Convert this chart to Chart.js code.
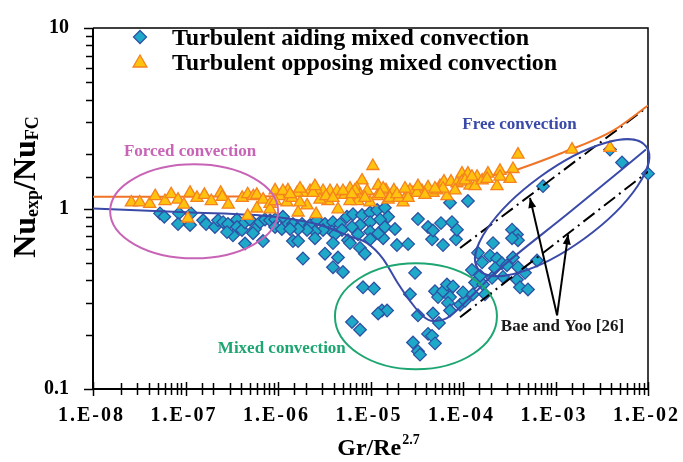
<!DOCTYPE html>
<html>
<head>
<meta charset="utf-8">
<script src="https://cdn.jsdelivr.net/npm/chart.js@4.4.1/dist/chart.umd.min.js"></script>
<style>
  html, body { margin: 0; padding: 0; background: #fff; }
  #wrap { width: 683px; height: 462px; position: relative; }
</style>
</head>
<body>
<div id="wrap"><canvas id="c"></canvas></div>
<script>
// Nu_exp/Nu_FC against Gr/Re^2.7 for turbulent mixed convection

// Turbulent aiding mixed convection (diamonds)
const aidingX = [
  5.3e-8, 5.9e-8, 8.5e-8, 1.15e-7, 8.3e-8, 1.55e-7, 1.67e-7, 2.08e-7, 2.25e-7, 2.55e-7,
  2.88e-7, 3.6e-7, 3.6e-7, 3.26e-7, 4.08e-7, 4.4e-7, 4.98e-7, 5.64e-7, 6.4e-7, 7.24e-7,
  8.2e-7, 9.3e-7, 4.4e-7, 6.88e-7, 5.37e-7, 9.3e-7, 1.10e-6, 1.25e-6, 1.13e-6, 2.81e-7,
  1.12e-7, 1.45e-6,
  1.45e-6, 1.82e-6, 2.22e-6, 2.64e-6, 3.22e-6, 3.93e-6, 4.68e-6, 5.57e-6, 6.47e-6, 8.1e-6,
  9.9e-6, 1.18e-5, 1.43e-5, 1.55e-5, 1.27e-5, 9.9e-6, 7.7e-6, 6.31e-6, 4.92e-6, 3.83e-6,
  3.07e-6, 2.51e-6, 2.06e-6, 1.65e-6, 1.35e-6, 1.65e-6, 2.51e-6, 4.13e-6, 5.71e-6, 7.33e-6,
  9.9e-6, 1.43e-5, 1.84e-5, 1.37e-5, 9.9e-6, 1.21e-5, 3.93e-6, 6.0e-6, 7.7e-6, 8.7e-6,
  3.22e-6, 4.45e-6, 3.93e-6, 5.04e-6, 1.86e-6, 1.93e-5, 2.55e-5, 6.08e-5, 4.63e-5, 8.4e-5,
  3.03e-5,
  3.26e-5, 4.19e-5, 4.74e-5, 5.78e-5, 7.6e-5, 8.6e-5, 7.24e-5, 1.13e-4,
  8.3e-6, 1.09e-5, 1.33e-5, 1.51e-5, 1.21e-5, 6.31e-6, 7.7e-6, 2.67e-5, 3.26e-5, 4.74e-5,
  5.5e-5, 4.19e-5, 4.63e-5, 4.98e-5, 2.88e-5, 3.26e-5, 3.43e-5, 4.98e-5, 5.37e-5, 6.08e-5,
  6.71e-5, 7.8e-5, 7.24e-5, 6.88e-5, 7.24e-5, 9.3e-5, 1.05e-4, 1.0e-4, 1.28e-4, 1.35e-4,
  1.65e-4, 1.53e-4, 1.25e-4, 1.73e-4, 1.96e-4, 2.33e-4,
  1.45e-4, 1.61e-4, 2.64e-4, 2.99e-4, 2.22e-4, 2.71e-4, 2.06e-4, 3.47e-4, 3.93e-4, 3.39e-4,
  3.83e-4, 3.93e-4, 3.39e-4, 4.68e-4, 3.83e-4, 4.13e-4, 5.04e-4, 6.31e-4, 2.11e-4,
  7.33e-4, 5.24e-3, 1.0e-2, 3.88e-3
];
const aidingY = [
  0.94, 0.90, 0.94, 0.94, 0.82, 0.86, 0.82, 0.79, 0.86, 0.84,
  0.82, 0.87, 0.79, 0.71, 0.76, 0.84, 0.87, 0.77, 0.84, 0.87,
  0.86, 0.87, 0.64, 0.66, 0.73, 0.79, 0.77, 0.84, 0.90, 0.74,
  0.81, 0.66,
  0.82, 0.82, 0.81, 0.86, 0.82, 0.84, 0.82, 0.90, 0.93, 0.92,
  0.95, 0.98, 1.01, 0.90, 0.87, 0.84, 0.81, 0.79, 0.76, 0.745,
  0.76, 0.745, 0.76, 0.77, 0.77, 0.66, 0.684, 0.72, 0.667, 0.72,
  0.745, 0.79, 0.77, 0.684, 0.675, 0.727, 0.643, 0.643, 0.605, 0.562,
  0.562, 0.535, 0.473, 0.445, 0.528, 0.627, 0.635, 0.627, 0.675, 0.675,
  0.44,
  0.874, 0.79, 0.755, 0.83, 0.84, 0.763, 1.076, 1.10,
  0.366, 0.36, 0.272, 0.272, 0.262, 0.235, 0.213, 0.335, 0.256, 0.262,
  0.232, 0.202, 0.197, 0.179, 0.181, 0.162, 0.155, 0.348, 0.323, 0.348,
  0.379, 0.37, 0.323, 0.30, 0.272, 0.293, 0.308, 0.343, 0.335, 0.389,
  0.379, 0.424, 0.456, 0.335, 0.548, 0.528,
  0.568, 0.503, 0.497, 0.485, 0.467, 0.418, 0.413, 0.535, 0.473, 0.763,
  0.718, 0.667, 0.684, 0.44, 0.403, 0.366, 0.356, 0.515, 0.643,
  1.33, 1.80, 1.56, 2.12
];

// Turbulent opposing mixed convection (triangles)
const opposingX = [
  2.6e-8, 3.2e-8, 4.1e-8, 4.7e-8, 6.0e-8, 7.0e-8, 8.3e-8, 9.6e-8, 1.12e-7, 1.33e-7,
  1.6e-7, 1.9e-7, 2.4e-7, 2.5e-7, 2.9e-7, 4.1e-7, 4.7e-7, 5.4e-7, 5.9e-7, 6.9e-7,
  8.2e-7, 9.3e-7, 1.1e-6, 5.9e-7, 8.2e-7, 4.7e-7, 1.06e-7,
  1.06e-5, 8.1e-6, 1.21e-5, 1.47e-5, 1.79e-5, 7.1e-6, 6.0e-6, 4.45e-6, 3.65e-6, 3.07e-6,
  2.64e-6, 2.22e-6, 1.86e-6, 1.61e-6, 1.28e-6, 1.05e-6, 9.3e-7, 1.25e-6, 1.65e-6, 2.58e-6,
  2.06e-6, 4.45e-6, 5.3e-6, 7.7e-6, 9.2e-6, 1.18e-5, 1.55e-5, 7.3e-6, 6.0e-6, 3.47e-6,
  2.84e-6, 1.42e-6, 1.13e-6, 9.9e-6, 1.73e-6, 4.35e-6, 6.8e-6,
  1.73e-6, 2.39e-6, 3.30e-6, 3.93e-6, 5.04e-6, 6.31e-6, 8.7e-6, 2.51e-6, 1.35e-6,
  1.37e-5, 2.25e-5, 2.48e-5, 2.88e-5, 3.6e-5, 4.74e-5, 5.64e-5, 6.23e-5, 7.42e-5, 6.71e-5,
  8.6e-5, 9.75e-5, 1.13e-4, 9.75e-5, 1.19e-4, 1.35e-4, 1.42e-4, 1.62e-5, 2.03e-5, 2.67e-5,
  3.18e-5, 3.26e-5, 4.19e-5, 5.24e-5, 2.55e-5, 6.08e-5,
  1.27e-5, 1.93e-5, 2.36e-5, 3.88e-5, 4.98e-5, 8.2e-5, 1.05e-4, 1.61e-4,
  3.93e-4, 3.47e-4, 3.22e-4, 2.51e-4, 2.33e-4, 1.86e-4, 1.82e-4, 1.25e-4, 2.51e-4, 1.51e-3,
  3.88e-3
];
const opposingY = [
  1.08, 1.08, 1.06, 1.17, 1.10, 1.20, 1.12, 1.05, 1.22, 1.145,
  1.19, 1.10, 1.22, 1.16, 1.05, 1.145, 1.20, 1.17, 1.19, 1.12,
  1.06, 1.26, 1.19, 1.00, 0.99, 0.91, 0.88,
  1.72, 1.43, 1.34, 1.26, 1.26, 1.29, 1.29, 1.19, 1.25, 1.25,
  1.25, 1.25, 1.22, 1.22, 1.26, 1.17, 1.10, 1.08, 0.95, 0.93,
  1.04, 0.99, 1.19, 1.19, 1.25, 1.17, 1.12, 1.10, 1.10, 1.10,
  1.12, 1.145, 1.25, 1.08, 1.08, 1.25, 1.26,
  1.29, 1.22, 1.17, 1.145, 1.25, 1.20, 1.145, 1.33, 1.20,
  1.29, 1.08, 1.19, 1.22, 1.25, 1.22, 1.33, 1.41, 1.41, 1.17,
  1.38, 1.56, 1.56, 1.41, 1.34, 1.33, 1.50, 1.145, 1.145, 1.26,
  1.22, 1.33, 1.31, 1.26, 1.145, 1.29,
  1.20, 1.20, 1.29, 1.19, 1.29, 1.26, 1.43, 1.43,
  1.99, 1.655, 1.46, 1.615, 1.33, 1.56, 1.46, 1.50, 1.50, 2.12,
  2.17
];

// Correlation curves
const aidingFitX = [1e-8, 1e-7, 1e-6, 2.85e-6, 6.0e-6, 9.2e-6, 1.36e-5, 1.93e-5, 2.67e-5, 3.7e-5, 4.74e-5, 6.7e-5, 1.1e-4, 1.53e-4, 2.1e-4, 1.43e-3, 9.5e-3];
const aidingFitY = [1.0, 0.952, 0.895, 0.81, 0.70, 0.643, 0.528, 0.393, 0.308, 0.253, 0.238, 0.247, 0.308, 0.365, 0.429, 0.956, 2.12];
const opposingFitX = [1e-8, 1e-7, 1e-6, 1e-5, 5.6e-5, 1.96e-4, 3.22e-4, 1.2e-3, 4.19e-3, 1e-2];
const opposingFitY = [1.16, 1.16, 1.17, 1.2, 1.33, 1.52, 1.6, 2.04, 2.7, 3.72];

// Bae and Yoo [26] bounds
const baeUpperX = [9.3e-5, 1e-2];
const baeUpperY = [0.604, 3.67];
const baeLowerX = [9.3e-5, 1e-2];
const baeLowerY = [0.25, 1.6];

// Tick labels, one per decade
const xTickLabels = ['1.E-08', '1.E-07', '1.E-06', '1.E-05', '1.E-04', '1.E-03', '1.E-02'];
const yTickLabels = ['0.1', '1', '10'];

const SERIF = '"Liberation Serif", "Times New Roman", serif';
const DIAMOND_FILL = '#1fa9c9';
const DIAMOND_EDGE = '#2d52a4';
const TRI_FILL = '#ffc20e';
const TRI_EDGE = '#f5811f';
const BLUE = '#3a4aa8';
const ORANGE = '#f07428';

const pts = (xs, ys) => xs.map((x, i) => ({ x: x, y: ys[i] }));
const isDecade = v => Math.abs(Math.log10(v) - Math.round(Math.log10(v))) < 1e-6;

function drawDiamond(ctx, x, y, r) {
  ctx.beginPath();
  ctx.moveTo(x, y - r); ctx.lineTo(x + r, y); ctx.lineTo(x, y + r); ctx.lineTo(x - r, y);
  ctx.closePath();
  ctx.fillStyle = DIAMOND_FILL; ctx.fill();
  ctx.strokeStyle = DIAMOND_EDGE; ctx.lineWidth = 1.3; ctx.stroke();
}
function drawTriangle(ctx, x, y, r) {
  ctx.beginPath();
  for (let k = 0; k < 3; k++) {
    const a = k * 2 * Math.PI / 3;
    const px = x + Math.sin(a) * r, py = y - Math.cos(a) * r;
    if (k === 0) ctx.moveTo(px, py); else ctx.lineTo(px, py);
  }
  ctx.closePath();
  ctx.fillStyle = TRI_FILL; ctx.fill();
  ctx.strokeStyle = TRI_EDGE; ctx.lineWidth = 1.3; ctx.stroke();
}
function arrow(ctx, x0, y0, x1, y1) {
  ctx.beginPath(); ctx.moveTo(x0, y0); ctx.lineTo(x1, y1);
  ctx.strokeStyle = '#000'; ctx.lineWidth = 2; ctx.stroke();
  const a = Math.atan2(y1 - y0, x1 - x0), L = 10, W = 4;
  ctx.beginPath();
  ctx.moveTo(x1, y1);
  ctx.lineTo(x1 - L * Math.cos(a) + W * Math.sin(a), y1 - L * Math.sin(a) - W * Math.cos(a));
  ctx.lineTo(x1 - L * Math.cos(a) - W * Math.sin(a), y1 - L * Math.sin(a) + W * Math.cos(a));
  ctx.closePath(); ctx.fillStyle = '#000'; ctx.fill();
}

const decor = {
  id: 'decor',
  beforeDatasetsDraw(chart) {
    const { ctx, chartArea: a, scales: { x, y } } = chart;
    ctx.save();
    // frame
    ctx.strokeStyle = '#000';
    ctx.lineWidth = 1.5;
    ctx.beginPath(); ctx.moveTo(a.left, a.top); ctx.lineTo(a.right, a.top); ctx.lineTo(a.right, a.bottom); ctx.stroke();
    ctx.lineWidth = 2;
    ctx.beginPath(); ctx.moveTo(a.left, a.top); ctx.lineTo(a.left, a.bottom); ctx.lineTo(a.right, a.bottom); ctx.stroke();
    // tick marks
    ctx.lineWidth = 1.5;
    x.ticks.forEach(t => {
      const px = Math.round(x.getPixelForValue(t.value)) + 0.5;
      const len = isDecade(t.value) ? 7 : 6;
      ctx.beginPath(); ctx.moveTo(px, a.bottom - len); ctx.lineTo(px, a.bottom + len); ctx.stroke();
    });
    y.ticks.forEach(t => {
      const py = Math.round(y.getPixelForValue(t.value)) + 0.5;
      const len = isDecade(t.value) ? 9 : 7;
      ctx.beginPath(); ctx.moveTo(a.left - len, py); ctx.lineTo(a.left, py); ctx.stroke();
    });
    ctx.restore();
  },
  afterDatasetsDraw(chart) {
    const { ctx, scales: { x, y } } = chart;
    const X = v => x.getPixelForValue(v), Y = v => y.getPixelForValue(v);
    ctx.save();
    ctx.lineWidth = 2;
    // regime ellipses
    ctx.strokeStyle = '#c864b6';
    ctx.beginPath(); ctx.ellipse(X(1.24e-7), Y(0.964), 84, 47, 0, 0, 2 * Math.PI); ctx.stroke();
    ctx.strokeStyle = '#1ea672';
    ctx.beginPath(); ctx.ellipse(X(3.1e-5), Y(0.253), 81, 53, 0, 0, 2 * Math.PI); ctx.stroke();
    ctx.strokeStyle = BLUE;
    ctx.beginPath(); ctx.ellipse(X(1.18e-3), Y(1.01), 104, 38, -36 * Math.PI / 180, 0, 2 * Math.PI); ctx.stroke();
    // arrows to the Bae and Yoo bounds
    arrow(ctx, X(1.04e-3), Y(0.256), X(5.3e-4), Y(1.145));
    arrow(ctx, X(1.04e-3), Y(0.256), X(1.37e-3), Y(0.718));
    // regime labels
    ctx.font = 'bold 17px ' + SERIF;
    ctx.textAlign = 'center';
    ctx.textBaseline = 'alphabetic';
    ctx.fillStyle = '#c864b6'; ctx.fillText('Forced convection', X(1.12e-7), Y(1.965));
    ctx.fillStyle = BLUE; ctx.fillText('Free convection', X(4.08e-4), Y(2.77));
    ctx.fillStyle = '#1ea672'; ctx.fillText('Mixed convection', X(1.1e-6), Y(0.158));
    ctx.fillStyle = '#1a1a1a'; ctx.fillText('Bae and Yoo [26]', X(1.19e-3), Y(0.21));
    ctx.restore();
  },
  afterDraw(chart) {
    const { ctx, chartArea: a, scales: { x } } = chart;
    ctx.save();
    ctx.fillStyle = '#000';
    // x tick labels
    ctx.font = 'bold 20px ' + SERIF;
    ctx.letterSpacing = '2px';
    ctx.textAlign = 'center';
    ctx.textBaseline = 'alphabetic';
    const e0 = Math.round(Math.log10(x.min));
    x.ticks.forEach(t => {
      if (!isDecade(t.value)) return;
      const lbl = xTickLabels[Math.round(Math.log10(t.value)) - e0];
      if (lbl) ctx.fillText(lbl, x.getPixelForValue(t.value) - 1.5, a.bottom + 31.5);
    });
    ctx.letterSpacing = '0px';
    // x title: Gr/Re^2.7
    ctx.textAlign = 'left';
    ctx.font = 'bold 24px ' + SERIF;
    const main = 'Gr/Re';
    const mw = ctx.measureText(main).width;
    ctx.font = 'bold 14px ' + SERIF;
    const sw = ctx.measureText('2.7').width;
    const x0 = 378 - (mw + sw) / 2;
    ctx.font = 'bold 24px ' + SERIF;
    ctx.fillText(main, x0, 455);
    ctx.font = 'bold 14px ' + SERIF;
    ctx.fillText('2.7', x0 + mw + 1, 444);
    // y title: Nu_exp/Nu_FC
    const parts = [['Nu', 32, 0], ['exp', 18, 3], ['/', 32, 0], ['Nu', 32, 0], ['FC', 18, 3]];
    let total = 0;
    parts.forEach(p => { ctx.font = 'bold ' + p[1] + 'px ' + SERIF; p.push(ctx.measureText(p[0]).width); total += p[3]; });
    ctx.translate(35, 187);
    ctx.rotate(-Math.PI / 2);
    let cx = -total / 2;
    parts.forEach(p => { ctx.font = 'bold ' + p[1] + 'px ' + SERIF; ctx.fillText(p[0], cx, p[2]); cx += p[3]; });
    ctx.setTransform(1, 0, 0, 1, 0, 0);
    // legend
    drawDiamond(ctx, 140, 37, 6.5);
    drawTriangle(ctx, 140, 63, 8);
    ctx.fillStyle = '#000';
    ctx.font = 'bold 24px ' + SERIF;
    ctx.textAlign = 'left';
    ctx.fillText('Turbulent aiding mixed convection', 172, 44.5);
    ctx.fillText('Turbulent opposing mixed convection', 172, 69.5);
    ctx.restore();
  }
};

new Chart(document.getElementById('c'), {
  type: 'scatter',
  data: {
    datasets: [
      {
        label: 'Turbulent aiding mixed convection',
        data: pts(aidingX, aidingY),
        pointStyle: 'rectRot', pointRadius: 6.3, pointHoverRadius: 6.3,
        backgroundColor: DIAMOND_FILL, borderColor: DIAMOND_EDGE, borderWidth: 1.3,
        clip: false, order: 6
      },
      {
        label: 'Turbulent opposing mixed convection',
        data: pts(opposingX, opposingY),
        pointStyle: 'triangle', pointRadius: 7, pointHoverRadius: 7,
        backgroundColor: TRI_FILL, borderColor: TRI_EDGE, borderWidth: 1.3,
        clip: false, order: 0
      },
      {
        label: 'Aiding correlation',
        data: pts(aidingFitX, aidingFitY),
        showLine: true, pointRadius: 0, borderColor: BLUE, borderWidth: 2,
        cubicInterpolationMode: 'monotone', fill: false, order: 3
      },
      {
        label: 'Opposing correlation',
        data: pts(opposingFitX, opposingFitY),
        showLine: true, pointRadius: 0, borderColor: ORANGE, borderWidth: 2,
        cubicInterpolationMode: 'monotone', fill: false, order: 2
      },
      {
        label: 'Bae and Yoo [26] upper',
        data: pts(baeUpperX, baeUpperY),
        showLine: true, pointRadius: 0, borderColor: '#000', borderWidth: 2,
        borderDash: [14, 5, 2, 5], fill: false, order: 4
      },
      {
        label: 'Bae and Yoo [26] lower',
        data: pts(baeLowerX, baeLowerY),
        showLine: true, pointRadius: 0, borderColor: '#000', borderWidth: 2,
        borderDash: [14, 5, 2, 5], fill: false, order: 4
      }
    ]
  },
  options: {
    responsive: true,
    maintainAspectRatio: false,
    animation: false,
    events: [],
    layout: { padding: { top: 14, right: 35, left: 0, bottom: 0 } },
    plugins: { legend: { display: false }, tooltip: { enabled: false } },
    scales: {
      x: {
        type: 'logarithmic', min: 1e-8, max: 1e-2,
        grid: { display: false }, border: { display: false },
        ticks: { display: false, autoSkip: false },
        afterFit: s => { s.height = 73; }
      },
      y: {
        type: 'logarithmic', min: 0.1, max: 10,
        grid: { display: false }, border: { display: false },
        ticks: {
          autoSkip: false, padding: 16, color: '#000',
          font: { family: SERIF, size: 20, weight: 'bold' },
          callback: v => isDecade(v) ? (yTickLabels[Math.round(Math.log10(v)) + 1] || '') : ''
        },
        afterFit: s => { s.width = 93; }
      }
    }
  },
  plugins: [decor]
});
</script>
</body>
</html>
